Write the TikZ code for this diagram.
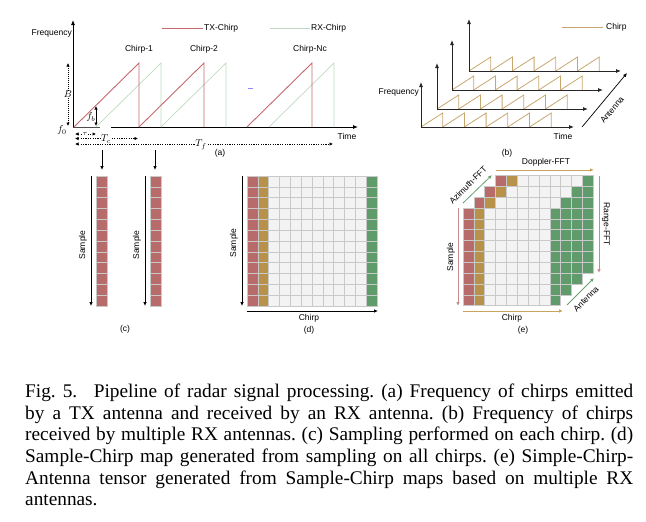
\documentclass[tikz,border=0pt]{standalone}
\usepackage{fontspec}
\setmainfont{Liberation Serif}
\setsansfont{Liberation Sans}
\usepackage{xcolor}
\usetikzlibrary{arrows.meta}

\definecolor{txred}{HTML}{C4686C}
\definecolor{rxgreen}{HTML}{BFD9BF}
\definecolor{chirpgold}{HTML}{C9A66E}
\definecolor{cellred}{HTML}{B86B6B}
\definecolor{cellgold}{HTML}{B8924A}
\definecolor{cellgreen}{HTML}{5F9B6B}
\definecolor{cellgrey}{HTML}{F3F3F3}
\definecolor{cellline}{HTML}{C9C9C9}
\definecolor{arrred}{HTML}{C98A8D}
\definecolor{arrgold}{HTML}{C9A45C}
\definecolor{arrgreen}{HTML}{6A9F6F}

\tikzset{
    axis/.style={line width=0.8pt,-{Latex[length=5pt,width=4pt]}},
    dimline/.style={line width=0.6pt,dash pattern=on 1.2pt off 1.2pt,
        {Latex[length=3.5pt,width=3.5pt]}-{Latex[length=3.5pt,width=3.5pt]}},
    cell/.style={draw=cellline,line width=0.6pt,fill=#1},
    cell/.default=cellgrey,
    lbl/.style={font=\sffamily\fontsize{8.5}{10}\selectfont,inner sep=1pt},
    mlbl/.style={font=\fontsize{10}{12}\selectfont,inner sep=0.5pt}
}

\begin{document}
\begin{tikzpicture}[x=1pt,y=-1pt]
            \useasboundingbox (0,0) rectangle (646,522);

            % (a)
            \coordinate (O) at (73,127);
            \coordinate (Ytop) at (73,20);
            \coordinate (Xa) at (100,127);
            \coordinate (Xb) at (111,127);
            \coordinate (Xend) at (358,127);
            \draw[axis] (O) -- (Ytop);
            \draw[line width=0.9pt,black!70] (O) -- (Xa);
            \draw[axis] (Xb) -- (Xend);
            \node[lbl,anchor=east] (freqa) at (73,33) {Frequency};
            \node[lbl] (timea) at (347,136) {Time};

            \draw[txred,line width=1pt] (162,28) -- (203,28);
            \node[lbl,anchor=west] (txleg) at (203,28) {TX-Chirp};
            \draw[rxgreen,line width=1pt] (270,28) -- (310,28);
            \node[lbl,anchor=west] (rxleg) at (310,28) {RX-Chirp};

            \foreach \s in {96,161,269}
                \draw[rxgreen,line width=0.7pt] (\s,127) -- (\s+65,63) -- (\s+65,127);
            \foreach \s in {74,139,247}
                \draw[txred,line width=0.9pt] (\s,127) -- (\s+65,63) -- (\s+65,127);
            \node[lbl] (chirpone) at (139,49) {Chirp-1};
            \node[lbl] (chirptwo) at (204,49) {Chirp-2};
            \node[lbl] (chirpnc) at (310,49) {Chirp-Nc};
            \draw[blue!45,line width=0.6pt] (248,88) -- (253,88);

            \draw[dimline,dash pattern=on 1pt off 1pt] (68,63) -- (68,126)
                node[mlbl,midway,fill=white] (bw) {$B$};
            \node[mlbl] (fzero) at (62,130) {$f_0$};
            \draw[line width=0.7pt,{Latex[length=3.5pt,width=3.5pt]}-{Latex[length=3.5pt,width=3.5pt]}]
                (96,106) -- (96,126);
            \node[mlbl] (fbeat) at (91,117) {$f_b$};
            \draw[dimline] (75,134) -- (96,134);
            \node[mlbl,font=\fontsize{7}{8}\selectfont,fill=white] (tau) at (85,134) {$\tau$};
            \draw[dimline] (75,138.5) -- (138,138.5);
            \node[mlbl,fill=white] (tc) at (106,139) {$T_c$};
            \draw[dimline] (75,144) -- (333,144);
            \node[mlbl,fill=white] (tf) at (201,145) {$T_f$};
            \node[lbl] (capa) at (220,153) {(a)};

            \draw[line width=0.7pt,-{Latex[length=4pt,width=3.5pt]}] (102,150) -- (102,170);
            \draw[line width=0.7pt,-{Latex[length=4pt,width=3.5pt]}] (155,150) -- (155,170);

            % (b)
            \foreach \x/\y/\t/\e in {469/71/19/621,452/90/40/603,437/109/63/588,421/127/82/574} {
                \foreach \n in {0,...,5}
                    \draw[chirpgold,line width=0.8pt] (\x+21.7*\n,\y) -- ++(21.7,-14) -- ++(0,14);
                \draw[axis,black!85] (\x,\y) -- (\x,\t);
                \draw[axis,black!85] (\x,\y) -- (\e,\y);
            }
            \draw[chirpgold,line width=1pt] (562,27) -- (603,27);
            \node[lbl,anchor=west] (chirpleg) at (605,27) {Chirp};
            \node[lbl,anchor=east] (freqb) at (420,92) {Frequency};
            \node[lbl] (timeb) at (563,136) {Time};
            \draw[line width=0.7pt,-{Latex[length=4pt,width=3.5pt]}] (582,127) -- (627,73);
            \node[lbl,rotate=50] (antb) at (612,110) {Antenna};
            \node[lbl] (capb) at (507,153) {(b)};

            % (c)
            \foreach \c in {96,150}
                \foreach \j in {0,...,11}
                    \draw[cell=cellred] (\c,176+10.83*\j) rectangle ++(10.83,10.83);
            \foreach \c in {91,145}
                \draw[line width=0.7pt,-{Latex[length=4pt,width=3.5pt]}] (\c,176) -- (\c,306);
            \node[lbl,rotate=90] (samplec) at (83,245) {Sample};
            \node[lbl,rotate=90] (samplecc) at (137,245) {Sample};
            \node[lbl] (capc) at (125,329) {(c)};

            % (d)
            \foreach \i in {0,...,11}
                \foreach \j in {0,...,11}
                    \draw[cell] (247+10.83*\i,176+10.83*\j) rectangle ++(10.83,10.83);
            \foreach \i/\col in {0/cellred,1/cellgold,11/cellgreen}
                \foreach \j in {0,...,11}
                    \draw[cell=\col] (247+10.83*\i,176+10.83*\j) rectangle ++(10.83,10.83);
            \draw[line width=0.7pt,-{Latex[length=4pt,width=3.5pt]}] (242,176) -- (242,306);
            \node[lbl,rotate=90] (sampled) at (234,243) {Sample};
            \draw[line width=0.7pt,-{Latex[length=4pt,width=3.5pt]}] (247,311) -- (378,311);
            \node[lbl] (chirpd) at (309,318) {Chirp};
            \node[lbl] (capd) at (309,330) {(d)};

            % (e)
            \foreach \k in {3,2,1,0} {
                \foreach \i in {0,...,8}
                    \foreach \j in {0,...,8}
                        \draw[cell] (463+10.85*\k+10.85*\i,208-10.85*\k+10.85*\j) rectangle ++(10.85,10.85);
                \foreach \i/\col in {0/cellred,1/cellgold,8/cellgreen}
                    \foreach \j in {0,...,8}
                        \draw[cell=\col] (463+10.85*\k+10.85*\i,208-10.85*\k+10.85*\j) rectangle ++(10.85,10.85);
            }
            \draw[arrgold,line width=0.8pt,-{Latex[length=4pt,width=3.5pt]}] (496,170) -- (594,170);
            \node[lbl] (doppler) at (546,162) {Doppler-FFT};
            \draw[arrred,line width=0.8pt,-{Latex[length=4pt,width=3.5pt]}] (599,176) -- (599,273);
            \node[lbl,rotate=-90] (range) at (606,224) {Range-FFT};
            \draw[arrgreen,line width=0.8pt,-{Latex[length=4pt,width=3.5pt]}] (463,203) -- (492,175);
            \node[lbl,rotate=45] (azimuth) at (468,185) {Azimuth-FFT};
            \draw[arrgreen,line width=0.8pt,-{Latex[length=4pt,width=3.5pt]}] (567,305) -- (594,278);
            \node[lbl,rotate=45] (ante) at (586,299) {Antenna};
            \draw[arrred,line width=0.8pt,-{Latex[length=4pt,width=3.5pt]}] (458,208) -- (458,306);
            \node[lbl,rotate=90] (samplee) at (451,257) {Sample};
            \draw[arrgold,line width=0.8pt,-{Latex[length=4pt,width=3.5pt]}] (463,311) -- (563,311);
            \node[lbl] (chirpe) at (512,318) {Chirp};
            \node[lbl] (cape) at (523,330) {(e)};

            % caption
            \node[anchor=north west,inner sep=0pt,text width=608pt,align=justify,
                font=\rmfamily\fontsize{19.3}{21.6}\selectfont\frenchspacing] (caption) at (25,384)
                {Fig.~5.\hspace{0.5em} Pipeline of radar signal processing. (a) Frequency of chirps emitted\linebreak
                by a TX antenna and received by an RX antenna. (b) Frequency of chirps\linebreak
                received by multiple RX antennas. (c) Sampling performed on each chirp. (d)\linebreak
                Sample-Chirp map generated from sampling on all chirps. (e) Simple-Chirp-\linebreak
                Antenna tensor generated from Sample-Chirp maps based on multiple RX\linebreak
                antennas.};
        \end{tikzpicture}
\end{document}
